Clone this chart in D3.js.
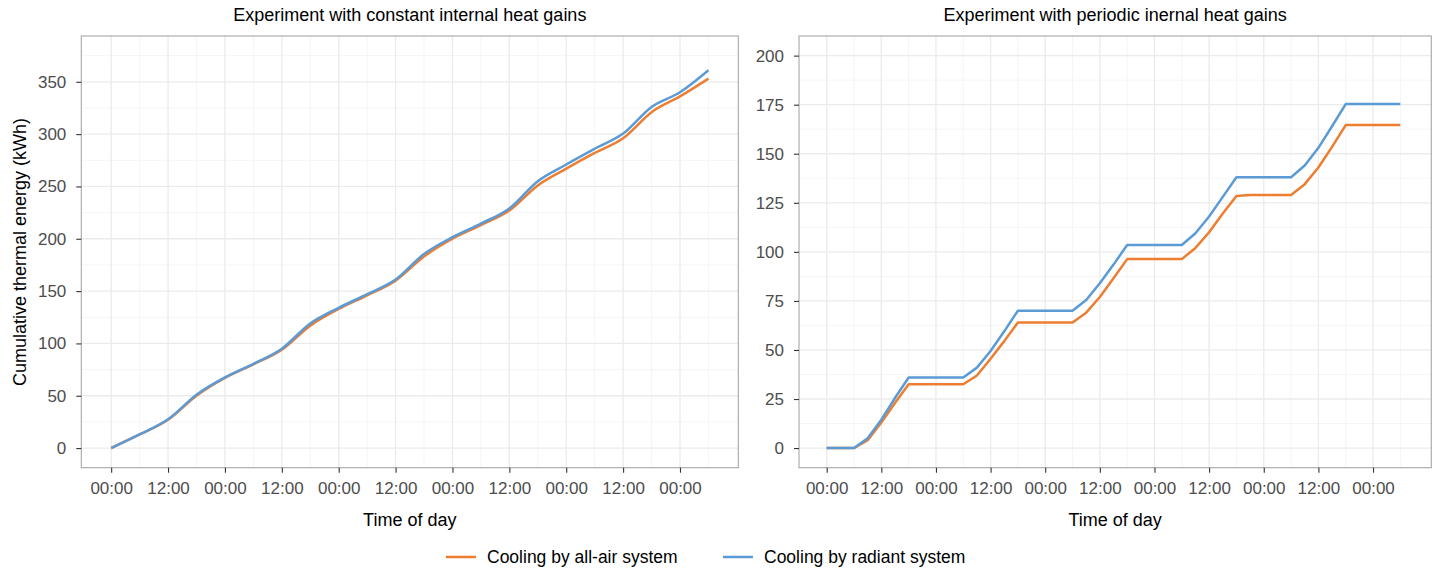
<!DOCTYPE html>
<html>
<head>
<meta charset="utf-8">
<script src="https://cdn.jsdelivr.net/npm/d3@7"></script>
<style>
    body { margin: 0; background: #ffffff; }
    svg { display: block; font-family: "Liberation Sans", Arial, sans-serif; }
</style>
</head>
<body>
<svg id="chart" width="1437" height="569"></svg>
<script>
// hours since the start of the experiment
const constHours = [0, 6, 12, 18, 24, 30, 36, 42, 48, 54, 60, 66, 72, 78, 84, 90, 96, 102, 108, 114, 120, 126];
const constAllAir = [0, 13, 27, 50, 67, 80, 94, 117, 133, 146, 160, 183, 200, 213, 227, 251, 267, 282, 296, 321, 336, 353];
const constRadiant = [0, 13, 27.5, 51, 67.5, 80.5, 95, 119, 134, 147, 161, 185.5, 201.5, 214.5, 229, 255, 271, 286, 300.5, 326, 340, 361];

const periodicHours = [0, 3, 6, 9, 12, 15, 18, 21, 24, 27, 30, 33, 36, 39, 42, 45, 48, 51, 54, 57, 60, 63, 66,
    69, 72, 75, 78, 81, 84, 87, 90, 93, 96, 99, 102, 105, 108, 111, 114, 117, 120, 123, 126];
const periodicAllAir = [0, 0, 0, 4, 13, 23, 32.5, 32.5, 32.5, 32.5, 32.5, 37, 45.5, 54.5, 64, 64, 64, 64, 64, 69, 77, 86.5, 96.3,
    96.3, 96.3, 96.3, 96.3, 102, 110, 119.5, 128.5, 129, 129, 129, 129, 134.5, 143, 153.5, 164.6, 164.6, 164.6, 164.6, 164.6];
const periodicRadiant = [0, 0, 0, 5, 14.5, 25.5, 36, 36, 36, 36, 36, 41, 49.5, 59.5, 70, 70, 70, 70, 70, 75.5, 84, 93.5, 103.5,
    103.5, 103.5, 103.5, 103.5, 109.5, 118, 128, 138, 138, 138, 138, 138, 144, 153, 164, 175.3, 175.3, 175.3, 175.3, 175.3];

const seriesNames = ["Cooling by all-air system", "Cooling by radiant system"];
const panelTitles = ["Experiment with constant internal heat gains", "Experiment with periodic inernal heat gains"];
const leftYTicks = [0, 50, 100, 150, 200, 250, 300, 350];
const rightYTicks = [0, 25, 50, 75, 100, 125, 150, 175, 200];

const colors = ["#ED7D31", "#5B9BD5"];
const start = Date.UTC(2020, 0, 6, 0, 0);
const toDate = h => new Date(start + h * 3600 * 1000);

const svg = d3.select("#chart");

function drawPanel(opts) {
    const { left, right, top, bottom, hours, allAir, radiant, xPad, yDomain, yTicks, title, curve } = opts;

    const x = d3.scaleUtc()
        .domain([toDate(xPad[0]), toDate(xPad[1])])
        .range([left, right]);
    const y = d3.scaleLinear().domain(yDomain).range([bottom, top]);

    const g = svg.append("g");

    const lastHour = d3.max(hours);
    const majorX = x.ticks(d3.utcHour.every(12)).filter(d => d <= toDate(lastHour));
    const minorX = majorX.map(d => new Date(+d + 6 * 3600 * 1000))
        .filter(d => x(d) > left && x(d) < right);
    const step = yTicks[1] - yTicks[0];
    const minorY = yTicks.map(v => v + step / 2)
        .filter(v => y(v) > top && y(v) < bottom);

    // minor grid
    g.selectAll(".mx").data(minorX).enter().append("line")
        .attr("x1", d => x(d)).attr("x2", d => x(d)).attr("y1", top).attr("y2", bottom)
        .attr("stroke", "#F2F2F2").attr("stroke-width", 0.8);
    g.selectAll(".my").data(minorY).enter().append("line")
        .attr("x1", left).attr("x2", right).attr("y1", d => y(d)).attr("y2", d => y(d))
        .attr("stroke", "#F2F2F2").attr("stroke-width", 0.8);
    // major grid
    g.selectAll(".gx").data(majorX).enter().append("line")
        .attr("x1", d => x(d)).attr("x2", d => x(d)).attr("y1", top).attr("y2", bottom)
        .attr("stroke", "#EBEBEB").attr("stroke-width", 1.3);
    g.selectAll(".gy").data(yTicks).enter().append("line")
        .attr("x1", left).attr("x2", right).attr("y1", d => y(d)).attr("y2", d => y(d))
        .attr("stroke", "#EBEBEB").attr("stroke-width", 1.3);

    const line = d3.line()
        .x(d => x(toDate(d[0])))
        .y(d => y(d[1]))
        .curve(curve);

    [allAir, radiant].forEach((vals, i) => {
        g.append("path")
            .datum(hours.map((h, k) => [h, vals[k]]))
            .attr("d", line)
            .attr("fill", "none")
            .attr("stroke", colors[i])
            .attr("stroke-width", 2.5)
            .attr("stroke-linejoin", "round");
    });

    g.append("rect")
        .attr("x", left).attr("y", top)
        .attr("width", right - left).attr("height", bottom - top)
        .attr("fill", "none").attr("stroke", "#A6A6A6").attr("stroke-width", 1.1);

    // axes
    const xAxis = d3.axisBottom(x).tickValues(majorX).tickFormat(d3.utcFormat("%H:%M"))
        .tickSize(5).tickPadding(9);
    const gx = g.append("g").attr("transform", `translate(0,${bottom})`).call(xAxis);
    const yAxis = d3.axisLeft(y).tickValues(yTicks).tickSize(5).tickPadding(10);
    const gy = g.append("g").attr("transform", `translate(${left},0)`).call(yAxis);
    [gx, gy].forEach(a => {
        a.select(".domain").remove();
        a.selectAll(".tick line").attr("stroke", "#333333").attr("stroke-width", 1.1);
        a.selectAll(".tick text").attr("fill", "#4D4D4D")
            .style("font-size", "17px").style("font-family", "Liberation Sans, Arial, sans-serif");
    });

    svg.append("text")
        .attr("x", (left + right) / 2).attr("y", 21)
        .attr("text-anchor", "middle")
        .style("font-size", "18px")
        .text(title);

    svg.append("text")
        .attr("x", (left + right) / 2).attr("y", 526)
        .attr("text-anchor", "middle")
        .style("font-size", "18px")
        .text("Time of day");
}

drawPanel({
    left: 81.3, right: 738.3, top: 36, bottom: 467.7,
    hours: constHours, allAir: constAllAir, radiant: constRadiant,
    xPad: [-6.3, 132.3], yDomain: [-18.75, 393.75], yTicks: leftYTicks,
    title: panelTitles[0], curve: d3.curveMonotoneX
});

drawPanel({
    left: 799, right: 1431.3, top: 36, bottom: 467.7,
    hours: periodicHours, allAir: periodicAllAir, radiant: periodicRadiant,
    xPad: [-6.08, 132.8], yDomain: [-10, 210], yTicks: rightYTicks,
    title: panelTitles[1], curve: d3.curveLinear
});

svg.append("text")
    .attr("transform", "translate(26,252) rotate(-90)")
    .attr("text-anchor", "middle")
    .style("font-size", "18px")
    .text("Cumulative thermal energy (kWh)");

// legend
const legendX = [446, 723];
const legend = svg.selectAll(".legend").data(seriesNames).enter().append("g")
    .attr("transform", (d, i) => `translate(${legendX[i]},557)`);
legend.append("line")
    .attr("x1", 0).attr("x2", 30).attr("y1", 0).attr("y2", 0)
    .attr("stroke", (d, i) => colors[i]).attr("stroke-width", 2.5);
legend.append("text")
    .attr("x", 41).attr("y", 0).attr("dy", "0.35em")
    .style("font-size", "17.5px")
    .text(d => d);
</script>
</body>
</html>
